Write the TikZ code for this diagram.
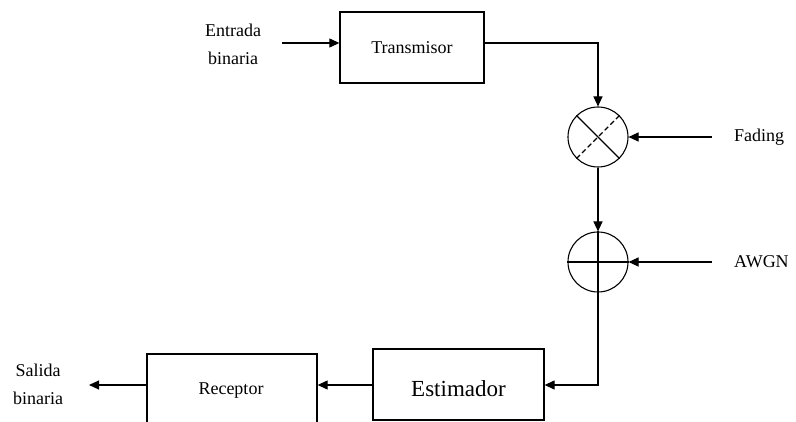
\documentclass[tikz,border=0pt]{standalone}
\usepackage{fontspec}
\setmainfont{Liberation Serif}
\usetikzlibrary{arrows.meta}
\begin{document}
\begin{tikzpicture}[x=1pt,y=-1pt,
  blk/.style={draw,line width=1.3pt,inner sep=0pt,font=\fontsize{18}{22}\selectfont},
  sumcirc/.style={draw,circle,line width=1.1pt,minimum size=60pt,inner sep=0pt},
  lbl/.style={font=\fontsize{18}{28}\selectfont,align=center,inner sep=0pt},
  conn/.style={line width=1.1pt,-{Triangle[length=10pt,width=9pt]}},
  plain/.style={line width=1.1pt}]
\useasboundingbox (0,0) rectangle (796,422);
\clip (0,0) rectangle (796,422);
% blocks
\node[blk,minimum width=144pt,minimum height=71pt] (tx) at (412,47.5) {Transmisor};
\node[sumcirc] (mul) at (598,137) {};
\node[sumcirc] (add) at (598,262) {};
\node[blk,minimum width=171pt,minimum height=71pt] (est) at (458.5,384.5) {};
\node[lbl,font=\fontsize{23}{26}\selectfont] (estt) at (458.5,389) {Estimador};
\node[blk,minimum width=170pt,minimum height=100pt] (rx) at (232,404) {};
\node[lbl] (rxt) at (231,391) {Receptor};
% symbols
\draw[plain] (mul.north west) -- (mul.south east);
\draw[plain,dash pattern=on 5pt off 3pt] (mul.south west) -- (mul.north east);
\draw[plain] (add.west) -- (add.east);
\draw[plain] (add.north) -- (add.south);
% labels
\node[lbl] (inl) at (233,44) {Entrada\\binaria};
\node[lbl,anchor=west] (fad) at (734,137) {Fading};
\node[lbl,anchor=west] (awgn) at (734,262) {AWGN};
\node[lbl] (outl) at (38,384) {Salida\\binaria};
% free ends
\coordinate (inS) at (282,43);
\coordinate (fadS) at (712,137);
\coordinate (awgnS) at (712,262);
\coordinate (outE) at (89,385);
% connectors
\draw[conn] (inS) -- (inS -| tx.west);
\draw[conn] (inS -| tx.east) -| (mul.north);
\draw[conn] (fadS) -- (mul.east);
\draw[conn] (mul.south) -- (add.north);
\draw[conn] (awgnS) -- (add.east);
\draw[conn] (add.south) |- (outE -| est.east);
\draw[conn] (outE -| est.west) -- (outE -| rx.east);
\draw[conn] (outE -| rx.west) -- (outE);
\end{tikzpicture}
\end{document}
